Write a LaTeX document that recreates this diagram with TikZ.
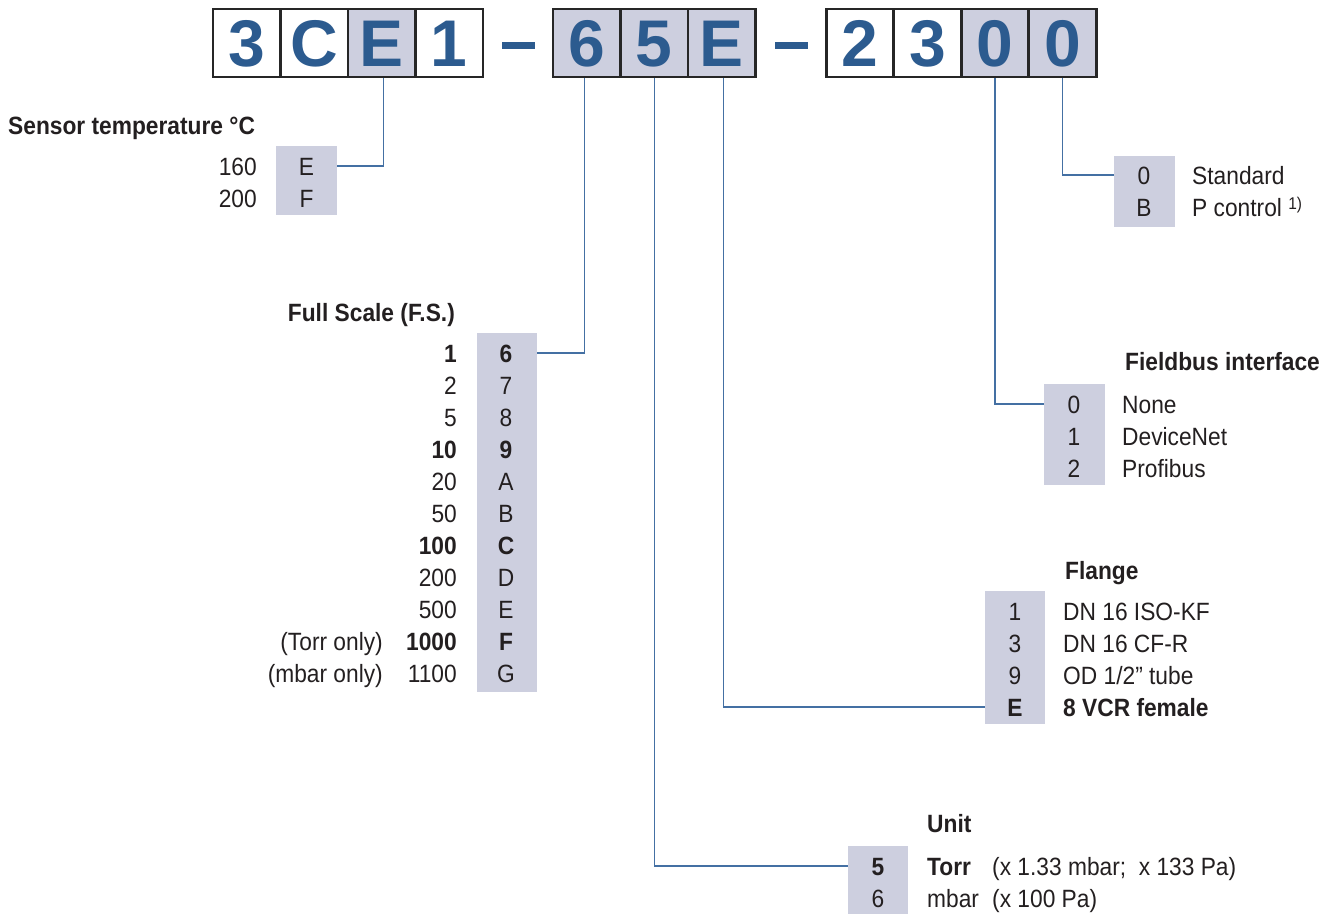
\documentclass[tikz,border=0pt]{standalone}
\usepackage{fontspec}
\setmainfont{Liberation Sans}[FakeStretch=0.91]
\newfontfamily\codefont{Liberation Sans}
\definecolor{codeblue}{HTML}{2C5B8F}
\definecolor{shade}{HTML}{CDCFDF}
\definecolor{linkblue}{HTML}{4470A3}
\definecolor{txt}{HTML}{231F20}
\begin{document}
\begin{tikzpicture}[x=1pt,y=-1pt,
 codebox/.style={draw=black!85, line width=2.6pt, minimum width=67.5pt, minimum height=68pt, inner sep=0,
   font=\codefont\fontsize{66}{66}\selectfont\bfseries, text=codeblue, text height=47pt, text depth=0pt},
 shadedbox/.style={codebox, fill=shade},
 tab/.style={fill=shade, inner sep=0, draw=none},
 cell/.style={inner sep=0, text height=18pt, text depth=0pt, font=\fontsize{25}{25}\selectfont, text=txt},
 bcell/.style={cell, font=\fontsize{25}{25}\selectfont\bfseries},
 link/.style={draw=linkblue, line width=1.2pt},
 dashbar/.style={fill=codeblue, draw=none, inner sep=0, minimum width=33pt, minimum height=7pt}
]
\useasboundingbox (0,0) rectangle (1336,914);

% ---------- option tables (shaded columns) ----------
\node[tab, minimum width=61pt, minimum height=69pt]  (tsens) at (306.5,180.5) {};
\node[tab, minimum width=60pt, minimum height=359pt] (tfs)   at (507,512.5) {};
\node[tab, minimum width=60pt, minimum height=68pt]  (tunit) at (878,880) {};
\node[tab, minimum width=60pt, minimum height=133pt] (tfl)   at (1015,657.5) {};
\node[tab, minimum width=61pt, minimum height=101pt] (tfb)   at (1074.5,434.5) {};
\node[tab, minimum width=61pt, minimum height=71pt]  (tct)   at (1144.5,191.5) {};

% ---------- code boxes ----------
\node[codebox]    (c1)  at (246.75,43) {3};
\node[codebox]    (c2)  at (314.25,43) {C};
\node[shadedbox]  (c3)  at (381.75,43) {E};
\node[codebox]    (c4)  at (449.25,43) {1};
\node[dashbar]    (d1)  at (518.5,45) {};
\node[shadedbox]  (c5)  at (586.75,43) {6};
\node[shadedbox]  (c6)  at (654.25,43) {5};
\node[shadedbox]  (c7)  at (721.75,43) {E};
\node[dashbar]    (d2)  at (791.5,45) {};
\node[codebox]    (c8)  at (860,43) {2};
\node[codebox]    (c9)  at (927.5,43) {3};
\node[shadedbox]  (c10) at (995,43) {0};
\node[shadedbox]  (c11) at (1062.5,43) {0};

% ---------- Sensor temperature ----------
\node[bcell, anchor=west] (tsenstitle) at (8,125) {Sensor temperature °C};
\node[cell] (sE) at (306.5,166) {E};
\node[cell] (sF) at (306.5,198) {F};
\node[cell, anchor=east] (s160) at (257,166) {160};
\node[cell, anchor=east] (s200) at (257,198) {200};

% ---------- Full scale ----------
\node[bcell, anchor=east] (fstitle) at (455,312) {Full Scale (F.S.)};
\node[bcell] (f0) at (506,353) {6};   \node[bcell, anchor=east] (v0) at (457,353) {1};
\node[cell]  (f1) at (506,385) {7};   \node[cell,  anchor=east] (v1) at (457,385) {2};
\node[cell]  (f2) at (506,417) {8};   \node[cell,  anchor=east] (v2) at (457,417) {5};
\node[bcell] (f3) at (506,449) {9};   \node[bcell, anchor=east] (v3) at (457,449) {10};
\node[cell]  (f4) at (506,481) {A};   \node[cell,  anchor=east] (v4) at (457,481) {20};
\node[cell]  (f5) at (506,513) {B};   \node[cell,  anchor=east] (v5) at (457,513) {50};
\node[bcell] (f6) at (506,545) {C};   \node[bcell, anchor=east] (v6) at (457,545) {100};
\node[cell]  (f7) at (506,577) {D};   \node[cell,  anchor=east] (v7) at (457,577) {200};
\node[cell]  (f8) at (506,609) {E};   \node[cell,  anchor=east] (v8) at (457,609) {500};
\node[bcell] (f9) at (506,641) {F};   \node[bcell, anchor=east] (v9) at (457,641) {1000};
\node[cell]  (f10) at (506,673) {G};  \node[cell,  anchor=east] (v10) at (457,673) {1100};
\node[cell, anchor=east] (n9)  at (383,641) {(Torr only)};
\node[cell, anchor=east] (n10) at (383,673) {(mbar only)};

% ---------- Unit ----------
\node[bcell, anchor=west] (unittitle) at (927,823) {Unit};
\node[bcell] (u5) at (878,866) {5};
\node[cell]  (u6) at (878,898) {6};
\node[bcell, anchor=west] (u5a) at (927,866) {Torr};
\node[cell,  anchor=west] (u5b) at (992,866) {(x 1.33 mbar;\ \ x 133 Pa)};
\node[cell,  anchor=west] (u6a) at (927,898) {mbar};
\node[cell,  anchor=west] (u6b) at (992,898) {(x 100 Pa)};

% ---------- Flange ----------
\node[bcell, anchor=west] (fltitle) at (1065,570) {Flange};
\node[cell]  (fl1) at (1015,611) {1};  \node[cell,  anchor=west] (fl1t) at (1063,611) {DN 16 ISO-KF};
\node[cell]  (fl3) at (1015,643) {3};  \node[cell,  anchor=west] (fl3t) at (1063,643) {DN 16 CF-R};
\node[cell]  (fl9) at (1015,675) {9};  \node[cell,  anchor=west] (fl9t) at (1063,675) {OD 1/2” tube};
\node[bcell] (flE) at (1015,707) {E};  \node[bcell, anchor=west] (flEt) at (1063,707) {8 VCR female};

% ---------- Fieldbus ----------
\node[bcell, anchor=west] (fbtitle) at (1125,361) {Fieldbus interface};
\node[cell] (fb0) at (1074,404) {0}; \node[cell, anchor=west] (fb0t) at (1122,404) {None};
\node[cell] (fb1) at (1074,436) {1}; \node[cell, anchor=west] (fb1t) at (1122,436) {DeviceNet};
\node[cell] (fb2) at (1074,468) {2}; \node[cell, anchor=west] (fb2t) at (1122,468) {Profibus};

% ---------- Control ----------
\node[cell] (ct0) at (1144,175) {0}; \node[cell, anchor=west] (ct0t) at (1192,175) {Standard};
\node[cell] (ctB) at (1144,207) {B}; \node[cell, anchor=west] (ctBt) at (1192,207) {P control {\fontsize{17}{17}\selectfont\raisebox{7pt}{1)}}};

% ---------- connectors ----------
\draw[link] ([xshift=2pt]c3.south)  |- (sE -| tsens.east);
\draw[link] ([xshift=-2pt]c5.south) |- (f0 -| tfs.east);
\draw[link] (c6.south)  |- (u5 -| tunit.west);
\draw[link] ([xshift=2pt]c7.south)  |- (flE -| tfl.west);
\draw[link] (c10.south) |- (fb0 -| tfb.west);
\draw[link] (c11.south) |- (ct0 -| tct.west);
\end{tikzpicture}
\end{document}
